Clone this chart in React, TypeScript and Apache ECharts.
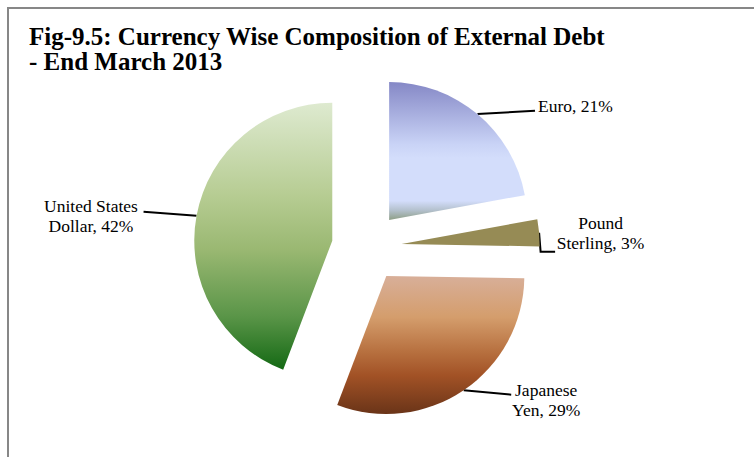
import React, { useEffect, useRef } from 'react';
import * as echarts from 'echarts';

// ---- data ----
const categories = ['Euro', 'Pound\nSterling', 'Japanese\nYen', 'United States\nDollar'];
const shares = [21, 3, 29, 42];
const titleText = 'Fig-9.5: Currency Wise Composition of External Debt\n- End March 2013';

// ---- styles ----
const sliceGradients: [number, string][][] = [
  [[0, '#8588C6'], [0.45, '#C9D3F6'], [0.55, '#D3DDFB'], [0.86, '#D3DDFB'], [0.93, '#B3C0CC'], [1, '#8D9E85']],
  [[0, '#968B55'], [1, '#968B55']],
  [[0, '#D8AF99'], [0.3, '#D49D6C'], [0.55, '#B7703F'], [0.72, '#A25226'], [1, '#6A3418']],
  [[0, '#DEEAD0'], [0.35, '#B6CC92'], [0.55, '#9AB872'], [0.8, '#5A9548'], [1, '#146914']],
];

// label placement: leader lengths position the text; bends are leader-line corners
// relative to the slice-edge anchor point; padding nudges the text block
const labelPlacement = [
  { length: 9.9, length2: 49.3, align: 'left', padding: [0, 0, 0, 0], bends: [[57.6, -3.4]] },
  { length: 1, length2: 55.4, align: 'center', padding: [14, 0, 0, 0], bends: [[1.5, 19], [16, 19]] },
  { length: 12.2, length2: 70.6, align: 'center', padding: [0, 0, 0, 0], bends: [[47.5, 4.4]] },
  { length: 1, length2: 99.6, align: 'center', padding: [3, 0, 0, 0], bends: [[-53, -4]] },
];

export default function App() {
  const ref = useRef<HTMLDivElement>(null);
  useEffect(() => {
    if (!ref.current) return;
    const chart = echarts.init(ref.current, null, { renderer: 'svg' });
    const option: any = {
      animation: false,
      backgroundColor: '#ffffff',
      title: {
        text: titleText,
        left: 24,
        top: 19,
        textStyle: {
          fontFamily: 'Liberation Serif',
          fontWeight: 'bold',
          fontSize: 25,
          lineHeight: 25,
          color: '#000',
        },
      },
      graphic: [
        {
          type: 'rect',
          silent: true,
          shape: { x: 8, y: 8, width: 800, height: 500 },
          style: { fill: 'none', stroke: '#878787', lineWidth: 2 },
        },
      ],
      series: [
        {
          type: 'pie',
          center: [366.7, 247],
          radius: 138,
          startAngle: 90,
          clockwise: true,
          selectedMode: 'multiple',
          selectedOffset: 35,
          avoidLabelOverlap: false,
          emphasis: { disabled: true },
          data: categories.map((name, i) => ({
            name,
            value: shares[i],
            selected: true,
            itemStyle: {
              color: new echarts.graphic.LinearGradient(
                0, 0, 0, 1,
                sliceGradients[i].map(([offset, color]) => ({ offset, color }))
              ),
            },
            label: { padding: labelPlacement[i].padding },
            labelLine: { length: labelPlacement[i].length, length2: labelPlacement[i].length2 },
          })),
          label: {
            show: true,
            position: 'outside',
            formatter: '{b}, {c}%',
            fontFamily: 'Liberation Serif',
            fontSize: 17.5,
            lineHeight: 20,
            color: '#000',
          },
          labelLine: {
            show: true,
            lineStyle: { color: '#000', width: 2 },
          },
          labelLayout: (params: any) => {
            const s = labelPlacement[params.dataIndex];
            const pts = params.labelLinePoints;
            if (!s || !pts) return {};
            const [x0, y0] = pts[0];
            return {
              align: s.align,
              verticalAlign: 'middle',
              labelLinePoints: [[x0, y0], ...s.bends.map(([dx, dy]) => [x0 + dx, y0 + dy])],
            };
          },
        },
      ],
    };
    chart.setOption(option);
    return () => chart.dispose();
  }, []);
  return (
    <div
      ref={ref}
      style={{ position: 'absolute', left: 0, top: 0, width: 754, height: 457, background: '#fff' }}
    />
  );
}
